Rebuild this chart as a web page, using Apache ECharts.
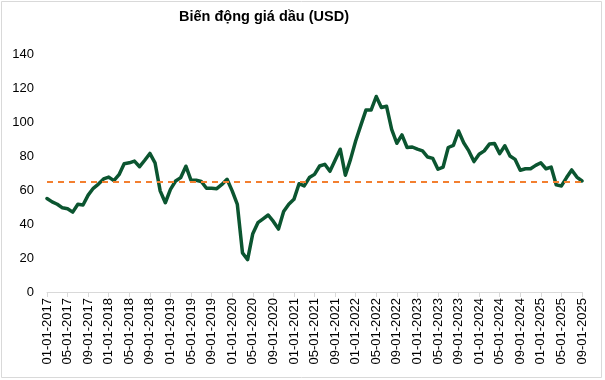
<!DOCTYPE html>
<html><head><meta charset="utf-8">
<script src="https://cdn.jsdelivr.net/npm/echarts@6/dist/echarts.min.js"></script>
<style>html,body{margin:0;padding:0;background:#fff}#c{width:605px;height:380px}</style>
</head><body><div id="c"></div>
<script>
const titleText = "Biến động giá dầu (USD)";
const startYear = 2017, monthCount = 105;
const prices = [
55,53,51.6,49.5,49,47,51.6,51.2,57,61,63.5,66.5,
67.6,65.5,69,75.5,76,77,73.7,77.5,81.5,76,59.5,52.5,
60.4,65.3,67.3,74,65.7,65.7,65,61,61,60.8,63.3,66.3,
59.5,51.5,23,19,34.3,40.8,43,45.3,41.5,37,47.3,51.6,
54.5,63.7,62.4,67.3,69.2,74.1,75.1,71,77.5,84,68.7,78,
88.8,98,107,107,115,108.5,109.3,95.7,87.5,92.4,85,85.3,
84,83,79.4,78.6,72.2,73.5,85,86.3,94.7,87.8,83,76.7,
81,83,87,87.3,81.4,86,80,78,71.6,72.5,72.5,74.5,
76,72.5,73.5,63,62.4,67.3,71.8,67.6,65.3
];
const refLevel = 65;
const yTicks = [0,20,40,60,80,100,120,140];

const dates = [];
for (let i = 0; i < monthCount; i++) {
  const y = startYear + Math.floor(i / 12), m = (i % 12) + 1;
  dates.push((m < 10 ? '0' + m : '' + m) + '-01-' + y);
}

const font = 'Liberation Sans, Arial, sans-serif';
const chart = echarts.init(document.getElementById('c'), null, {renderer: 'canvas'});
chart.setOption({
  animation: false,
  backgroundColor: '#fff',
  title: {
    text: titleText, left: 179, top: 9, padding: 0,
    textStyle: {fontFamily: font, fontWeight: 'bold', fontSize: 14.5, color: '#000'}
  },
  graphic: [{
    type: 'rect', shape: {x: 1.5, y: 1.5, width: 600, height: 376},
    style: {fill: 'none', stroke: '#d9d9d9', lineWidth: 1}, silent: true, z: -1
  }],
  grid: {left: 47, right: 23, top: 54, bottom: 88, containLabel: false},
  xAxis: {
    type: 'category', data: dates, boundaryGap: false,
    axisLine: {lineStyle: {color: '#d9d9d9', width: 1}},
    axisTick: {show: true, interval: 3, length: 5, lineStyle: {color: '#d9d9d9'}},
    axisLabel: {interval: 3, rotate: 90, margin: 6, color: '#000', fontFamily: font, fontSize: 13},
    splitLine: {show: false}
  },
  yAxis: {
    type: 'value', min: yTicks[0], max: yTicks[yTicks.length - 1], interval: 20,
    axisLine: {show: false}, axisTick: {show: false}, splitLine: {show: false},
    axisLabel: {margin: 13, color: '#000', fontFamily: font, fontSize: 13}
  },
  series: [{
    type: 'line', data: prices, symbol: 'none', smooth: false,
    lineStyle: {color: '#0b5530', width: 3.5, join: 'round', cap: 'round'},
    markLine: {
      silent: true, symbol: 'none', label: {show: false},
      lineStyle: {color: '#f37f2f', type: [6, 5], width: 2},
      data: [{yAxis: refLevel}]
    }
  }]
});
</script></body></html>
